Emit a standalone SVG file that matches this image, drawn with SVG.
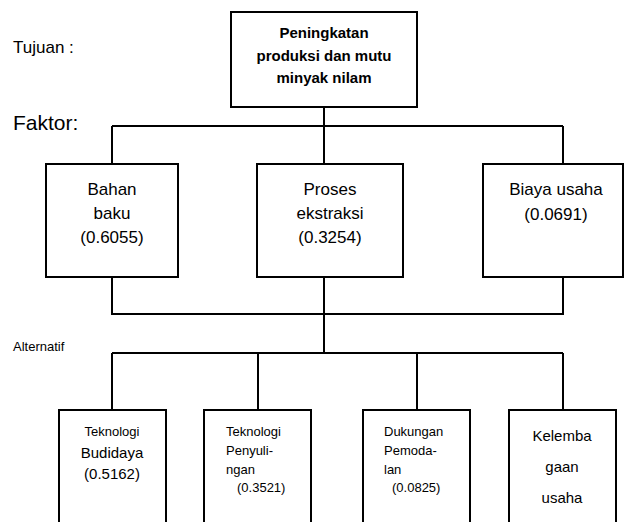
<svg xmlns="http://www.w3.org/2000/svg" width="624" height="522" viewBox="0 0 624 522">
<style>
  .box { fill: #fff; stroke: #000; stroke-width: 2; }
  .ln { fill: none; stroke: #000; stroke-width: 2; }
  text { font-family: "Liberation Sans", Arial, sans-serif; fill: #000; }
  .goal { font-size: 15px; font-weight: bold; text-anchor: middle; }
  .fac { font-size: 17px; text-anchor: middle; }
  .alt { font-size: 13px; }
  .c { text-anchor: middle; }
</style>
<rect width="624" height="522" fill="#fff"/>
<text x="13" y="53" style="font-size:17px">Tujuan :</text>
<text x="13" y="130" style="font-size:21px">Faktor:</text>
<text x="13" y="351" style="font-size:13px">Alternatif</text>

<g id="connectors">
  <path class="ln" d="M324 107 V164"/>
  <path class="ln" d="M112 126 H563"/>
  <path class="ln" d="M112 126 V164 M563 126 V164"/>
  <path class="ln" d="M112 277 V314 H563 V277"/>
  <path class="ln" d="M324 277 V353"/>
  <path class="ln" d="M112 353 H563"/>
  <path class="ln" d="M112 353 V410 M258 353 V410 M417 353 V410 M563 353 V410"/>
</g>

<g id="goal">
  <rect class="box" x="231" y="12" width="186" height="95"/>
  <text class="goal" x="324" y="38">Peningkatan</text>
  <text class="goal" x="324" y="61">produksi dan mutu</text>
  <text class="goal" x="324" y="83">minyak nilam</text>
</g>

<g id="bahan-baku">
  <rect class="box" x="46" y="164" width="132" height="113"/>
  <text class="fac" x="112" y="195">Bahan</text>
  <text class="fac" x="112" y="219">baku</text>
  <text class="fac" x="112" y="243">(0.6055)</text>
</g>

<g id="proses-ekstraksi">
  <rect class="box" x="257" y="164" width="146" height="113"/>
  <text class="fac" x="330" y="195">Proses</text>
  <text class="fac" x="330" y="219">ekstraksi</text>
  <text class="fac" x="330" y="243">(0.3254)</text>
</g>

<g id="biaya-usaha">
  <rect class="box" x="483" y="164" width="140" height="113"/>
  <text class="fac" x="556" y="195">Biaya usaha</text>
  <text class="fac" x="556" y="220">(0.0691)</text>
</g>

<g id="teknologi-budidaya">
  <rect class="box" x="59" y="410" width="107" height="125"/>
  <text class="alt c" x="112" y="436">Teknologi</text>
  <text class="c" x="112" y="458" style="font-size:15px">Budidaya</text>
  <text class="c" x="112" y="479" style="font-size:15px">(0.5162)</text>
</g>

<g id="teknologi-penyulingan">
  <rect class="box" x="204" y="410" width="107" height="125"/>
  <text class="alt" x="226" y="436">Teknologi</text>
  <text class="alt" x="226" y="455">Penyuli-</text>
  <text class="alt" x="226" y="474">ngan</text>
  <text class="alt" x="237" y="492">(0.3521)</text>
</g>

<g id="dukungan-pemodalan">
  <rect class="box" x="363" y="410" width="107" height="125"/>
  <text class="alt" x="384" y="436">Dukungan</text>
  <text class="alt" x="384" y="455">Pemoda-</text>
  <text class="alt" x="384" y="474">lan</text>
  <text class="alt" x="392" y="492">(0.0825)</text>
</g>

<g id="kelembagaan-usaha">
  <rect class="box" x="509" y="410" width="107" height="125"/>
  <text class="c" x="562" y="441" style="font-size:15px">Kelemba</text>
  <text class="c" x="562" y="472" style="font-size:15px">gaan</text>
  <text class="c" x="562" y="503" style="font-size:15px">usaha</text>
</g>
</svg>
